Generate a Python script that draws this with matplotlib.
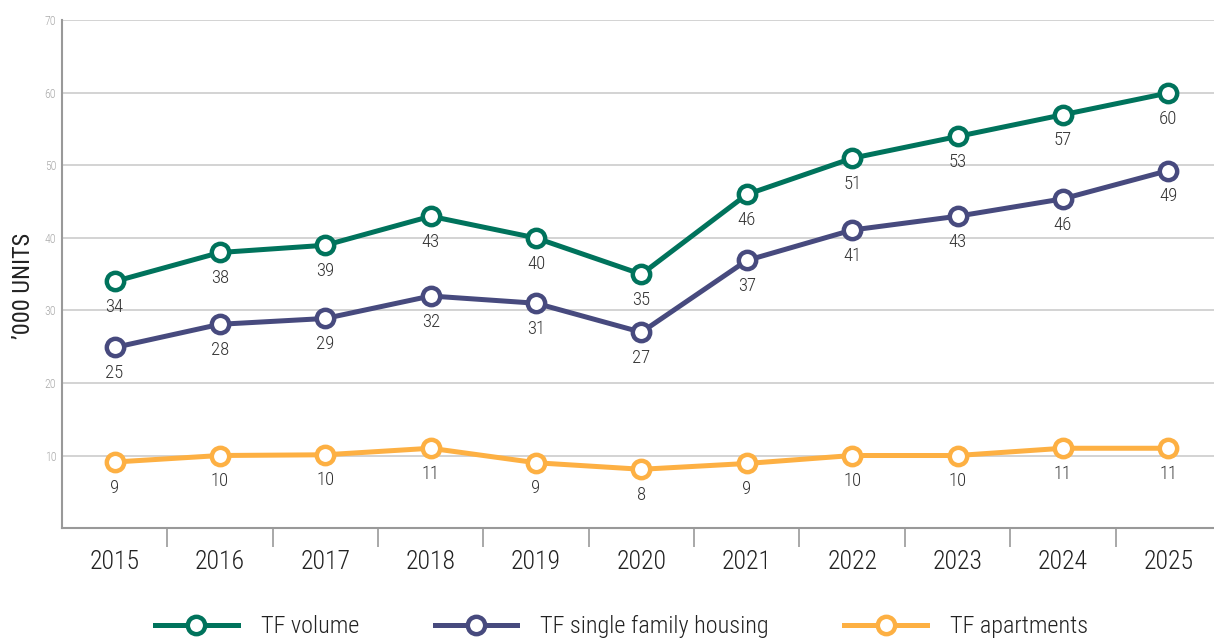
import matplotlib
matplotlib.use("Agg")
import matplotlib.pyplot as plt
from matplotlib.ticker import FixedLocator, NullFormatter

plt.rcParams["font.family"] = ["Roboto Condensed", "Roboto", "DejaVu Sans"]
plt.rcParams["font.weight"] = "light"

years = ["2015", "2016", "2017", "2018", "2019", "2020",
         "2021", "2022", "2023", "2024", "2025"]

volume = [34, 38, 39, 43, 40, 35, 46, 51, 54, 57, 60]
volume_labels = ["34", "38", "39", "43", "40", "35", "46", "51", "53", "57", "60"]

single_family = [24.9, 28.1, 28.9, 32, 31, 27, 36.9, 41.1, 43, 45.4, 49.3]
single_family_labels = ["25", "28", "29", "32", "31", "27", "37", "41", "43", "46", "49"]

apartments = [9.1, 10, 10.1, 11, 9, 8.1, 8.9, 10, 10, 11, 11]
apartments_labels = ["9", "10", "10", "11", "9", "8", "9", "10", "10", "11", "11"]

series = [
    ("TF volume", volume, volume_labels, "#00735C"),
    ("TF single family housing", single_family, single_family_labels, "#474A7E"),
    ("TF apartments", apartments, apartments_labels, "#FDB043"),
]

fig = plt.figure(figsize=(12.14, 6.38), dpi=100)
ax = fig.add_axes([0.051, 0.1724, 0.9547, 0.7955])

x = list(range(len(years)))
for name, vals, labels, color in series:
    ax.plot(x, vals, color=color, linewidth=3.6, marker="o", markersize=12.5,
            markerfacecolor="white", markeredgecolor=color, markeredgewidth=3.2,
            label=name, zorder=3)
    for xi, v, lab in zip(x, vals, labels):
        ax.annotate(lab, (xi, v), xytext=(0, -18.5), textcoords="offset points",
                    ha="center", va="center", fontsize=13.5, color="#333333")

ax.set_xlim(-0.5, len(years) - 0.5)
ax.set_ylim(0, 70)
ax.set_yticks([10, 20, 30, 40, 50, 60, 70])
ax.tick_params(axis="y", length=0, labelsize=8.5, labelcolor="#aaaaaa", pad=4)
ax.yaxis.grid(True, color="#c8c8c8", linewidth=1.1)
ax.set_axisbelow(True)

ax.set_xticks(x)
ax.set_xticklabels(years)
ax.tick_params(axis="x", which="major", length=0, labelsize=18.5,
               labelcolor="#222222", pad=16)
ax.xaxis.set_minor_locator(FixedLocator([i + 0.5 for i in range(len(years) - 1)]))
ax.xaxis.set_minor_formatter(NullFormatter())
ax.tick_params(axis="x", which="minor", length=14, width=1.2, color="#999999")

for side in ["top", "right"]:
    ax.spines[side].set_visible(False)
for side in ["left", "bottom"]:
    ax.spines[side].set_color("#999999")
    ax.spines[side].set_linewidth(1.5)

ax.set_ylabel("\u2019000 UNITS", fontsize=17.5, color="#222222")
ax.yaxis.set_label_coords(-0.023, 0.476)

fig.legend(loc="center", bbox_to_anchor=(0.512, 0.018), ncol=3, frameon=False,
           fontsize=17.5, handlelength=3.4, handletextpad=0.95, columnspacing=3.1,
           labelcolor="#222222")

plt.savefig("out.png", dpi=100)
